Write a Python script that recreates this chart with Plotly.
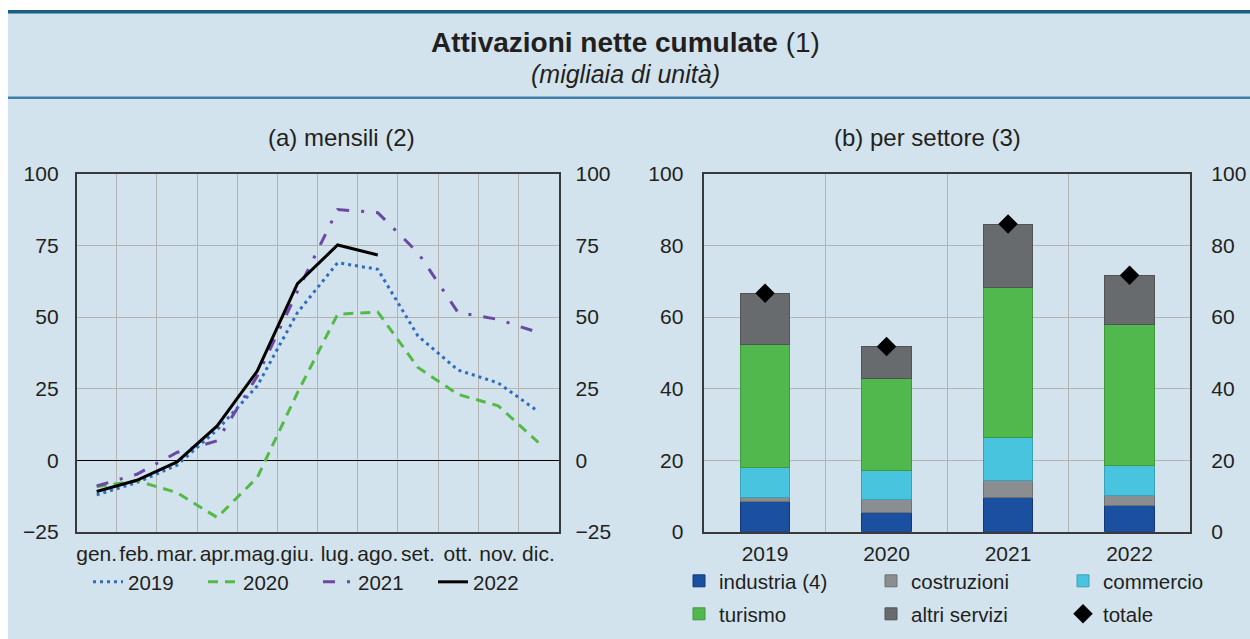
import plotly.graph_objects as go

# ---------------- data ----------------
months = ["gen.", "feb.", "mar.", "apr.", "mag.", "giu.", "lug.", "ago.", "set.", "ott.", "nov.", "dic."]
s2019 = [-12.1, -7.8, -1.7, 10.6, 26.0, 51.6, 69.0, 66.7, 43.4, 31.5, 27.0, 17.0]
s2020 = [-9.2, -7.2, -11.3, -20.0, -6.0, 23.6, 51.0, 51.8, 32.4, 23.0, 19.0, 6.2]
s2021 = [-9.0, -4.9, 2.7, 6.8, 29.4, 59.0, 87.6, 86.5, 72.5, 51.6, 49.2, 44.6]
s2022 = [-10.9, -7.0, -0.6, 12.0, 31.2, 61.7, 75.2, 71.7]

years = ["2019", "2020", "2021", "2022"]
industria = [8.4, 5.5, 9.7, 7.4]
costruzioni = [1.1, 3.6, 4.5, 2.8]
commercio = [8.4, 8.1, 12.2, 8.4]
turismo = [34.4, 25.7, 42.0, 39.3]
altri_servizi = [14.4, 8.9, 17.6, 13.8]
totale = [66.7, 51.8, 86.0, 71.7]

left_ticks_y = [-25, 0, 25, 50, 75, 100]
right_ticks_y = [0, 20, 40, 60, 80, 100]

# ---------------- layout constants ----------------
W, H = 1250, 639
FONT = "Liberation Sans, Arial, sans-serif"
TXT = "#231f20"
GRID = "#b4b4b4"
FRAME = "#3a3a3a"
BG = "#d2e3ed"

def px_x(p):
    return p / W

def px_y(p):
    return 1 - p / H

mx = list(range(1, len(months) + 1))
yx = list(range(1, len(years) + 1))

fig = go.Figure()

# left panel lines
fig.add_trace(go.Scatter(x=mx[:len(s2019)], y=s2019, name="2019", mode="lines",
                         line=dict(color="#2f6cc0", width=3, dash="3px,4px"),
                         xaxis="x", yaxis="y", legend="legend"))
fig.add_trace(go.Scatter(x=mx[:len(s2020)], y=s2020, name="2020", mode="lines",
                         line=dict(color="#55b948", width=3, dash="10px,7px"),
                         xaxis="x", yaxis="y", legend="legend"))
fig.add_trace(go.Scatter(x=mx[:len(s2021)], y=s2021, name="2021", mode="lines",
                         line=dict(color="#6a48a3", width=3, dash="12px,12px,3px,12px"),
                         xaxis="x", yaxis="y", legend="legend"))
fig.add_trace(go.Scatter(x=mx[:len(s2022)], y=s2022, name="2022", mode="lines",
                         line=dict(color="#000000", width=3),
                         xaxis="x", yaxis="y", legend="legend"))
# invisible trace so the right-hand mirror axis is drawn
fig.add_trace(go.Scatter(x=[mx[0]], y=[0], mode="markers", marker=dict(opacity=0),
                         showlegend=False, hoverinfo="skip", xaxis="x", yaxis="y2"))

# right panel bars
bw = 0.41
bar_specs = [
    ("industria (4)", industria, "#1b4fa0", "#123a78", "legend2"),
    ("costruzioni", costruzioni, "#8b8e90", "#6e7173", "legend2"),
    ("commercio", commercio, "#48c4df", "#3aa0b8", "legend2"),
    ("turismo", turismo, "#50b84c", "#3e9a3b", "legend3"),
    ("altri servizi", altri_servizi, "#676b6d", "#505456", "legend3"),
]
for name, vals, col, lc, lg in bar_specs:
    fig.add_trace(go.Bar(x=yx, y=vals, name=name, width=bw,
                         marker=dict(color=col, line=dict(color=lc, width=1)),
                         xaxis="x2", yaxis="y3", legend=lg))
fig.add_trace(go.Scatter(x=yx, y=totale, name="totale", mode="markers",
                         marker=dict(symbol="diamond", color="#000000", size=15),
                         xaxis="x2", yaxis="y3", legend="legend3"))
fig.add_trace(go.Scatter(x=[yx[0]], y=[0], mode="markers", marker=dict(opacity=0),
                         showlegend=False, hoverinfo="skip", xaxis="x2", yaxis="y4"))

# ---------------- axes ----------------
L_dom = [px_x(76.6), px_x(558.5)]
R_dom = [px_x(704.3), px_x(1190.3)]
Y_dom = [px_y(531.8), px_y(174)]

tickfont = dict(family=FONT, size=21, color=TXT)

common_x = dict(showline=True, mirror=True, linecolor=FRAME, linewidth=1.5,
                showgrid=False, zeroline=False, ticks="", tickfont=tickfont,
                tickangle=0, fixedrange=True, automargin=False)
fig.update_layout(
    xaxis=dict(domain=L_dom, anchor="y", range=[0.5, 12.5],
               tickmode="array", tickvals=mx, ticktext=months,
               ticklabelstandoff=2,
               minor=dict(tickmode="linear", tick0=0.5, dtick=1, showgrid=True,
                          gridcolor=GRID, gridwidth=1, ticks=""),
               **common_x),
    yaxis=dict(domain=Y_dom, anchor="x", range=[-25, 100], tickmode="array",
               tickvals=left_ticks_y, showgrid=True, gridcolor=GRID, gridwidth=1,
               zeroline=True, zerolinecolor="#000000", zerolinewidth=1.2,
               showline=True, mirror=True, linecolor=FRAME, linewidth=1.5,
               ticks="", tickfont=tickfont, ticklabelstandoff=12, automargin=False),
    yaxis2=dict(overlaying="y", side="right", anchor="x", range=[-25, 100],
                tickmode="array", tickvals=left_ticks_y, showgrid=False,
                zeroline=False, showline=False, ticks="", tickfont=tickfont,
                ticklabelstandoff=16, automargin=False),
    xaxis2=dict(domain=R_dom, anchor="y3", range=[0.5, 4.5],
                tickmode="array", tickvals=yx, ticktext=years,
                ticklabelstandoff=2,
                minor=dict(tickmode="linear", tick0=0.5, dtick=1, showgrid=True,
                           gridcolor=GRID, gridwidth=1, ticks=""),
                **common_x),
    yaxis3=dict(domain=Y_dom, anchor="x2", range=[0, 100], tickmode="array",
                tickvals=right_ticks_y, showgrid=True, gridcolor=GRID, gridwidth=1,
                zeroline=False, showline=True, mirror=True, linecolor=FRAME,
                linewidth=1.5, ticks="", tickfont=tickfont, ticklabelstandoff=15,
                automargin=False),
    yaxis4=dict(overlaying="y3", side="right", anchor="x2", range=[0, 100],
                tickmode="array", tickvals=right_ticks_y, showgrid=False,
                zeroline=False, showline=False, ticks="", tickfont=tickfont,
                ticklabelstandoff=20, automargin=False),
)

legfont = dict(family=FONT, size=20.5, color=TXT)
fig.update_layout(
    barmode="stack",
    width=W, height=H,
    autosize=False,
    margin=dict(l=0, r=0, t=0, b=0, pad=0, autoexpand=False),
    paper_bgcolor="#ffffff",
    plot_bgcolor="#ffffff",
    font=dict(family=FONT, color=TXT),
    legend=dict(orientation="h", x=px_x(88), y=px_y(582), xanchor="left", yanchor="middle",
                bgcolor="rgba(0,0,0,0)", font=legfont, entrywidth=70,
                itemwidth=30, traceorder="normal"),
    legend2=dict(orientation="h", x=px_x(679), y=px_y(581), xanchor="left", yanchor="middle",
                 bgcolor="rgba(0,0,0,0)", font=legfont, entrywidth=147, itemwidth=30,
                 traceorder="normal"),
    legend3=dict(orientation="h", x=px_x(679), y=px_y(614), xanchor="left", yanchor="middle",
                 bgcolor="rgba(0,0,0,0)", font=legfont, entrywidth=147, itemwidth=30,
                 traceorder="normal"),
    showlegend=True,
)

# background panel and rules
fig.add_shape(type="rect", xref="paper", yref="paper", layer="below",
              x0=px_x(8), x1=1, y0=0, y1=px_y(12), fillcolor=BG, line=dict(width=0))
fig.add_shape(type="rect", xref="paper", yref="paper", layer="below",
              x0=px_x(8), x1=1, y0=px_y(13.5), y1=px_y(10), fillcolor="#1b5f82", line=dict(width=0))
fig.add_shape(type="rect", xref="paper", yref="paper", layer="below",
              x0=px_x(8), x1=1, y0=px_y(99), y1=px_y(96.5), fillcolor="#3f7fa6", line=dict(width=0))

# titles
fig.add_annotation(text="<b>Attivazioni nette cumulate</b> (1)", x=0.5, y=px_y(42),
                   xref="paper", yref="paper", showarrow=False, xanchor="center", yanchor="middle",
                   font=dict(family=FONT, size=28, color=TXT))
fig.add_annotation(text="<i>(migliaia di unità)</i>", x=0.5, y=px_y(74),
                   xref="paper", yref="paper", showarrow=False, xanchor="center", yanchor="middle",
                   font=dict(family=FONT, size=25, color=TXT))
fig.add_annotation(text="(a) mensili (2)", x=px_x(341), y=px_y(137),
                   xref="paper", yref="paper", showarrow=False, xanchor="center", yanchor="middle",
                   font=dict(family=FONT, size=24, color=TXT))
fig.add_annotation(text="(b) per settore (3)", x=px_x(927), y=px_y(137),
                   xref="paper", yref="paper", showarrow=False, xanchor="center", yanchor="middle",
                   font=dict(family=FONT, size=24, color=TXT))

fig.write_html("out.html", config={"displayModeBar": False},
               post_script="document.body.style.margin='0';document.body.style.overflow='hidden';")
